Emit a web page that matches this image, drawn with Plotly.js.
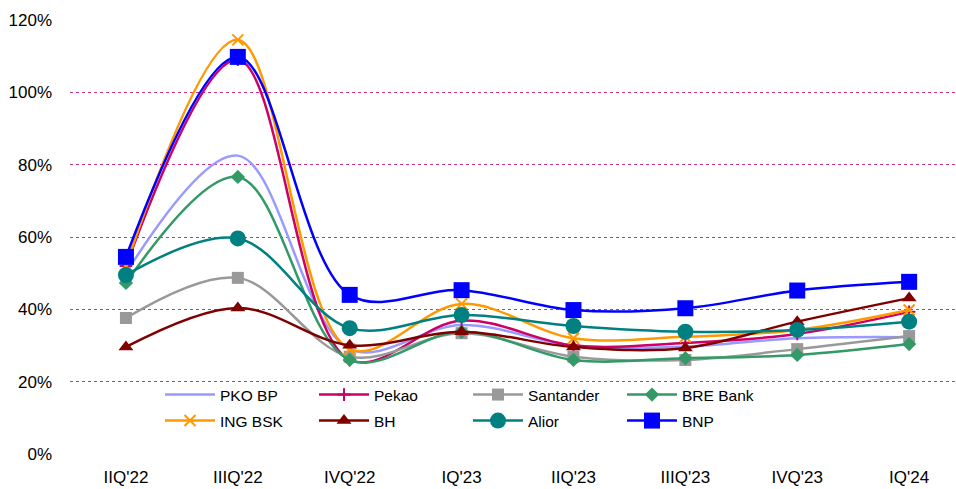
<!DOCTYPE html>
<html><head><meta charset="utf-8">
<script src="https://cdn.plot.ly/plotly-3.0.1.min.js"></script>
<style>html,body{margin:0;padding:0;background:#fff;}#chart{width:956px;height:489px;}</style>
</head><body><div id="chart"></div>
<script>
const categories = ["IIQ'22","IIIQ'22","IVQ'22","IQ'23","IIQ'23","IIIQ'23","IVQ'23","IQ'24"];
const pkoBP     = [50.0, 82.5, 29.0, 35.7, 30.0, 29.7, 32.0, 32.3];
const pekao     = [52.0, 109.0, 26.0, 36.9, 30.0, 30.7, 33.2, 39.3];
const santander = [37.6, 48.7, 26.9, 33.4, 26.9, 26.0, 29.0, 32.6];
const breBank   = [47.3, 76.6, 26.0, 33.8, 26.0, 26.5, 27.4, 30.4];
const ingBSK    = [52.0, 114.5, 29.0, 41.5, 32.0, 32.4, 34.3, 39.8];
const bh        = [29.6, 40.4, 30.1, 33.8, 29.6, 29.3, 36.6, 43.1];
const alior     = [49.5, 59.6, 34.8, 38.4, 35.4, 33.8, 34.3, 36.6];
const bnp       = [54.5, 109.8, 44.0, 45.3, 39.8, 40.3, 45.2, 47.6];
const yTicks = [0, 20, 40, 60, 80, 100, 120];

function tr(name, y, color, sym, size, legend, extra) {
  const t = {
    type: 'scatter', mode: sym ? 'lines+markers' : 'lines', name: name,
    x: categories, y: y, legend: legend,
    line: {color: color, width: 2.5, shape: 'spline', smoothing: 1},
    hoverinfo: 'skip'
  };
  if (sym) t.marker = Object.assign({symbol: sym, size: size, color: color, line: {width: 0, color: color}}, extra || {});
  return t;
}
const data = [
  tr('PKO BP', pkoBP, '#9999FF', null, 0, 'legend'),
  tr('Pekao', pekao, '#CC0066', 'cross-thin', 9, 'legend', {line: {width: 2, color: '#CC0066'}}),
  tr('Santander', santander, '#999999', 'square', 12, 'legend'),
  tr('BRE Bank', breBank, '#339966', 'diamond', 11, 'legend'),
  tr('ING BSK', ingBSK, '#FF9900', 'x-thin', 11, 'legend2', {line: {width: 2, color: '#FF9900'}}),
  tr('BH', bh, '#800000', 'triangle-up', 13, 'legend2'),
  tr('Alior', alior, '#008080', 'circle', 16, 'legend2'),
  tr('BNP', bnp, '#0000FF', 'square', 16, 'legend2')
];
const legendCommon = {
  orientation: 'h', xanchor: 'left', yanchor: 'middle', x: (160 - 70) / 885,
  bgcolor: 'rgba(255,255,255,0)',
  font: {family: 'Liberation Sans, Arial, sans-serif', size: 15.5, color: '#000'},
  entrywidth: 89, traceorder: 'normal', itemwidth: 50
};
const tickFont = {family: 'Liberation Sans, Arial, sans-serif', size: 17, color: '#000'};
const layout = {
  width: 956, height: 489,
  margin: {l: 70, r: 1, t: 20, b: 35},
  paper_bgcolor: '#fff', plot_bgcolor: '#fff',
  font: {family: 'Liberation Sans, Arial, sans-serif', size: 15, color: '#000'},
  showlegend: true,
  legend: Object.assign({}, legendCommon, {y: 1 - (395 - 20) / 434}),
  legend2: Object.assign({}, legendCommon, {y: 1 - (421 - 20) / 434}),
  xaxis: {
    type: 'category', range: [-0.5, 7.41], showgrid: false, zeroline: false,
    showline: false, ticks: '', ticklabelstandoff: 11, fixedrange: true, tickfont: tickFont
  },
  yaxis: {
    range: [0, 120], tickvals: yTicks, ticktext: yTicks.map(v => v + '%'),
    showgrid: true, gridcolor: '#CC3380', griddash: 'dot', gridwidth: 1,
    zeroline: false, showline: false, ticks: '', ticklabelstandoff: 17, fixedrange: true, tickfont: tickFont
  }
};
Plotly.newPlot('chart', data, layout, {staticPlot: true, displayModeBar: false});
</script></body></html>
